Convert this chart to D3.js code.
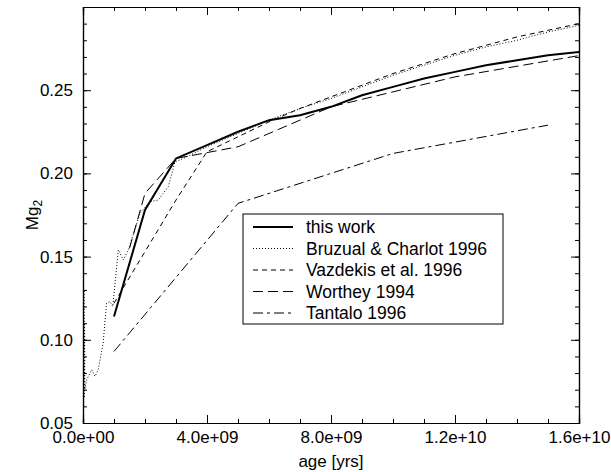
<!DOCTYPE html>
<html>
<head>
<meta charset="utf-8">
<script src="https://cdn.jsdelivr.net/npm/d3@7"></script>
<style>
  body { margin: 0; background: #fff; }
  text { font-family: "Liberation Sans", Arial, sans-serif; }
</style>
</head>
<body>
<svg id="chart" width="611" height="472"></svg>
<script>
// ages in Gyr, Mg2 index
var thisWorkAge = [1, 2, 3, 4, 5, 6, 7, 8, 9, 10, 11, 12, 13, 14, 15, 16];
var thisWorkMg  = [0.114, 0.178, 0.209, 0.217, 0.225, 0.232, 0.235, 0.240, 0.247, 0.252, 0.257, 0.261, 0.265, 0.268, 0.271, 0.273];

var bruzualAge = [0.0, 0.01, 0.02, 0.03, 0.04, 0.05, 0.06, 0.12, 0.28, 0.39, 0.49, 0.65, 0.76, 0.87, 0.96, 1.14, 1.3, 1.46, 1.84, 2.16, 2.43, 2.75, 2.97, 3.24, 4, 5, 6, 7, 8, 9, 10, 11, 12, 13, 14, 15, 16];
var bruzualMg  = [0.05, 0.145, 0.06, 0.13, 0.065, 0.11, 0.07, 0.076, 0.082, 0.078, 0.082, 0.098, 0.122, 0.123, 0.120, 0.154, 0.148, 0.154, 0.176, 0.183, 0.184, 0.192, 0.207, 0.209, 0.216, 0.224, 0.232, 0.239, 0.245, 0.252, 0.259, 0.265, 0.271, 0.276, 0.280, 0.285, 0.289];

var vazdekisAge = [1, 2, 3, 4, 5, 6, 7, 8, 9, 10, 11, 12, 13, 14, 15, 16];
var vazdekisMg  = [0.122, 0.153, 0.184, 0.213, 0.222, 0.231, 0.239, 0.246, 0.253, 0.260, 0.266, 0.272, 0.277, 0.282, 0.286, 0.290];

var wortheyAge = [1.5, 2, 3, 5, 8, 12, 17];
var wortheyMg  = [0.155, 0.188, 0.209, 0.216, 0.240, 0.258, 0.274];

var tantaloAge = [1, 5, 10, 15];
var tantaloMg  = [0.093, 0.182, 0.212, 0.229];

var legendNames = ["this work", "Bruzual & Charlot 1996", "Vazdekis et al. 1996", "Worthey 1994", "Tantalo 1996"];
var xTicks = [0, 4e9, 8e9, 1.2e10, 1.6e10];
var yTicks = [0.05, 0.10, 0.15, 0.20, 0.25];

var svg = d3.select("#chart");
var mLeft = 83, mRight = 579, mTop = 7, mBottom = 423;
var fs = 17;

var x = d3.scaleLinear().domain([0, 1.6e10]).range([mLeft, mRight]);
var y = d3.scaleLinear().domain([0.05, 0.30]).range([mBottom, mTop]);

// clip lines to the frame
svg.append("clipPath").attr("id", "clip")
  .append("rect").attr("x", mLeft).attr("y", mTop).attr("width", mRight - mLeft).attr("height", mBottom - mTop);

var series = [
  { age: thisWorkAge, mg: thisWorkMg, w: 2, dash: null },
  { age: bruzualAge, mg: bruzualMg, w: 1, dash: "1,2" },
  { age: vazdekisAge, mg: vazdekisMg, w: 1, dash: "5,4" },
  { age: wortheyAge, mg: wortheyMg, w: 1, dash: "10,5" },
  { age: tantaloAge, mg: tantaloMg, w: 1, dash: "10,4,3,4" }
];

var line = d3.line().x(d => x(d[0] * 1e9)).y(d => y(d[1]));

svg.append("g").attr("clip-path", "url(#clip)")
  .selectAll("path").data(series).enter().append("path")
  .attr("d", s => line(s.age.map((a, i) => [a, s.mg[i]])))
  .attr("fill", "none")
  .attr("stroke", "#000")
  .attr("stroke-width", s => s.w)
  .attr("stroke-dasharray", s => s.dash);

// frame + ticks on all four sides, pointing inward
var fmtX = d => d === 0 ? "0.0e+00" : d3.format(".1e")(d).replace(/e\+(\d)$/, "e+0$1");
var minorX = d3.range(0, 1.6e10 + 1, 1e9);
var minorY = d3.range(5, 31).map(v => v / 100);

var gBottom = svg.append("g").attr("transform", "translate(0," + mBottom + ")");
gBottom.call(d3.axisBottom(x).tickValues(minorX).tickSize(-4).tickFormat(""));
gBottom.append("g").call(d3.axisBottom(x).tickValues(xTicks).tickSize(-8).tickFormat(fmtX));

var gTop = svg.append("g").attr("transform", "translate(0," + mTop + ")");
gTop.call(d3.axisTop(x).tickValues(minorX).tickSize(-4).tickFormat(""));
gTop.append("g").call(d3.axisTop(x).tickValues(xTicks).tickSize(-8).tickFormat(""));

var gLeft = svg.append("g").attr("transform", "translate(" + mLeft + ",0)");
gLeft.call(d3.axisLeft(y).tickValues(minorY).tickSize(-4).tickFormat(""));
gLeft.append("g").call(d3.axisLeft(y).tickValues(yTicks).tickSize(-8).tickFormat(d3.format(".2f")));

var gRight = svg.append("g").attr("transform", "translate(" + mRight + ",0)");
gRight.call(d3.axisRight(y).tickValues(minorY).tickSize(-4).tickFormat(""));
gRight.append("g").call(d3.axisRight(y).tickValues(yTicks.concat([0.30])).tickSize(-8).tickFormat(""));

svg.selectAll(".domain").attr("stroke", "#000").attr("stroke-width", 1.2);
svg.selectAll(".tick line").attr("stroke", "#000");
svg.selectAll(".tick text").attr("font-size", fs).attr("fill", "#000")
  .attr("font-family", "'Liberation Sans', Arial, sans-serif");
gBottom.selectAll(".tick text").attr("y", 6).attr("dy", "0.8em");
gLeft.selectAll(".tick text").attr("x", -10);

// axis titles
svg.append("text").attr("x", (mLeft + mRight) / 2).attr("y", 467)
  .attr("text-anchor", "middle").attr("font-size", fs).text("age [yrs]");

var yt = svg.append("text").attr("transform", "translate(38,215) rotate(-90)")
  .attr("text-anchor", "middle").attr("font-size", fs);
yt.append("tspan").text("Mg");
yt.append("tspan").attr("font-size", 12).attr("dy", 4).text("2");

// legend
var lgX = 243, lgY = 214, lgW = 260, lgH = 110, rowH = 21.5;
svg.append("rect").attr("x", lgX).attr("y", lgY).attr("width", lgW).attr("height", lgH)
  .attr("fill", "#fff").attr("stroke", "#000").attr("stroke-width", 1);

var rows = svg.selectAll(".lg").data(series).enter().append("g")
  .attr("transform", (d, i) => "translate(" + lgX + "," + (lgY + 13 + i * rowH) + ")");
rows.append("line").attr("x1", 10).attr("x2", 50).attr("y1", 0).attr("y2", 0)
  .attr("stroke", "#000").attr("stroke-width", d => d.w).attr("stroke-dasharray", d => d.dash);
rows.append("text").attr("x", 63).attr("y", 6).attr("font-size", 17.5)
  .text((d, i) => legendNames[i]);
</script>
</body>
</html>
